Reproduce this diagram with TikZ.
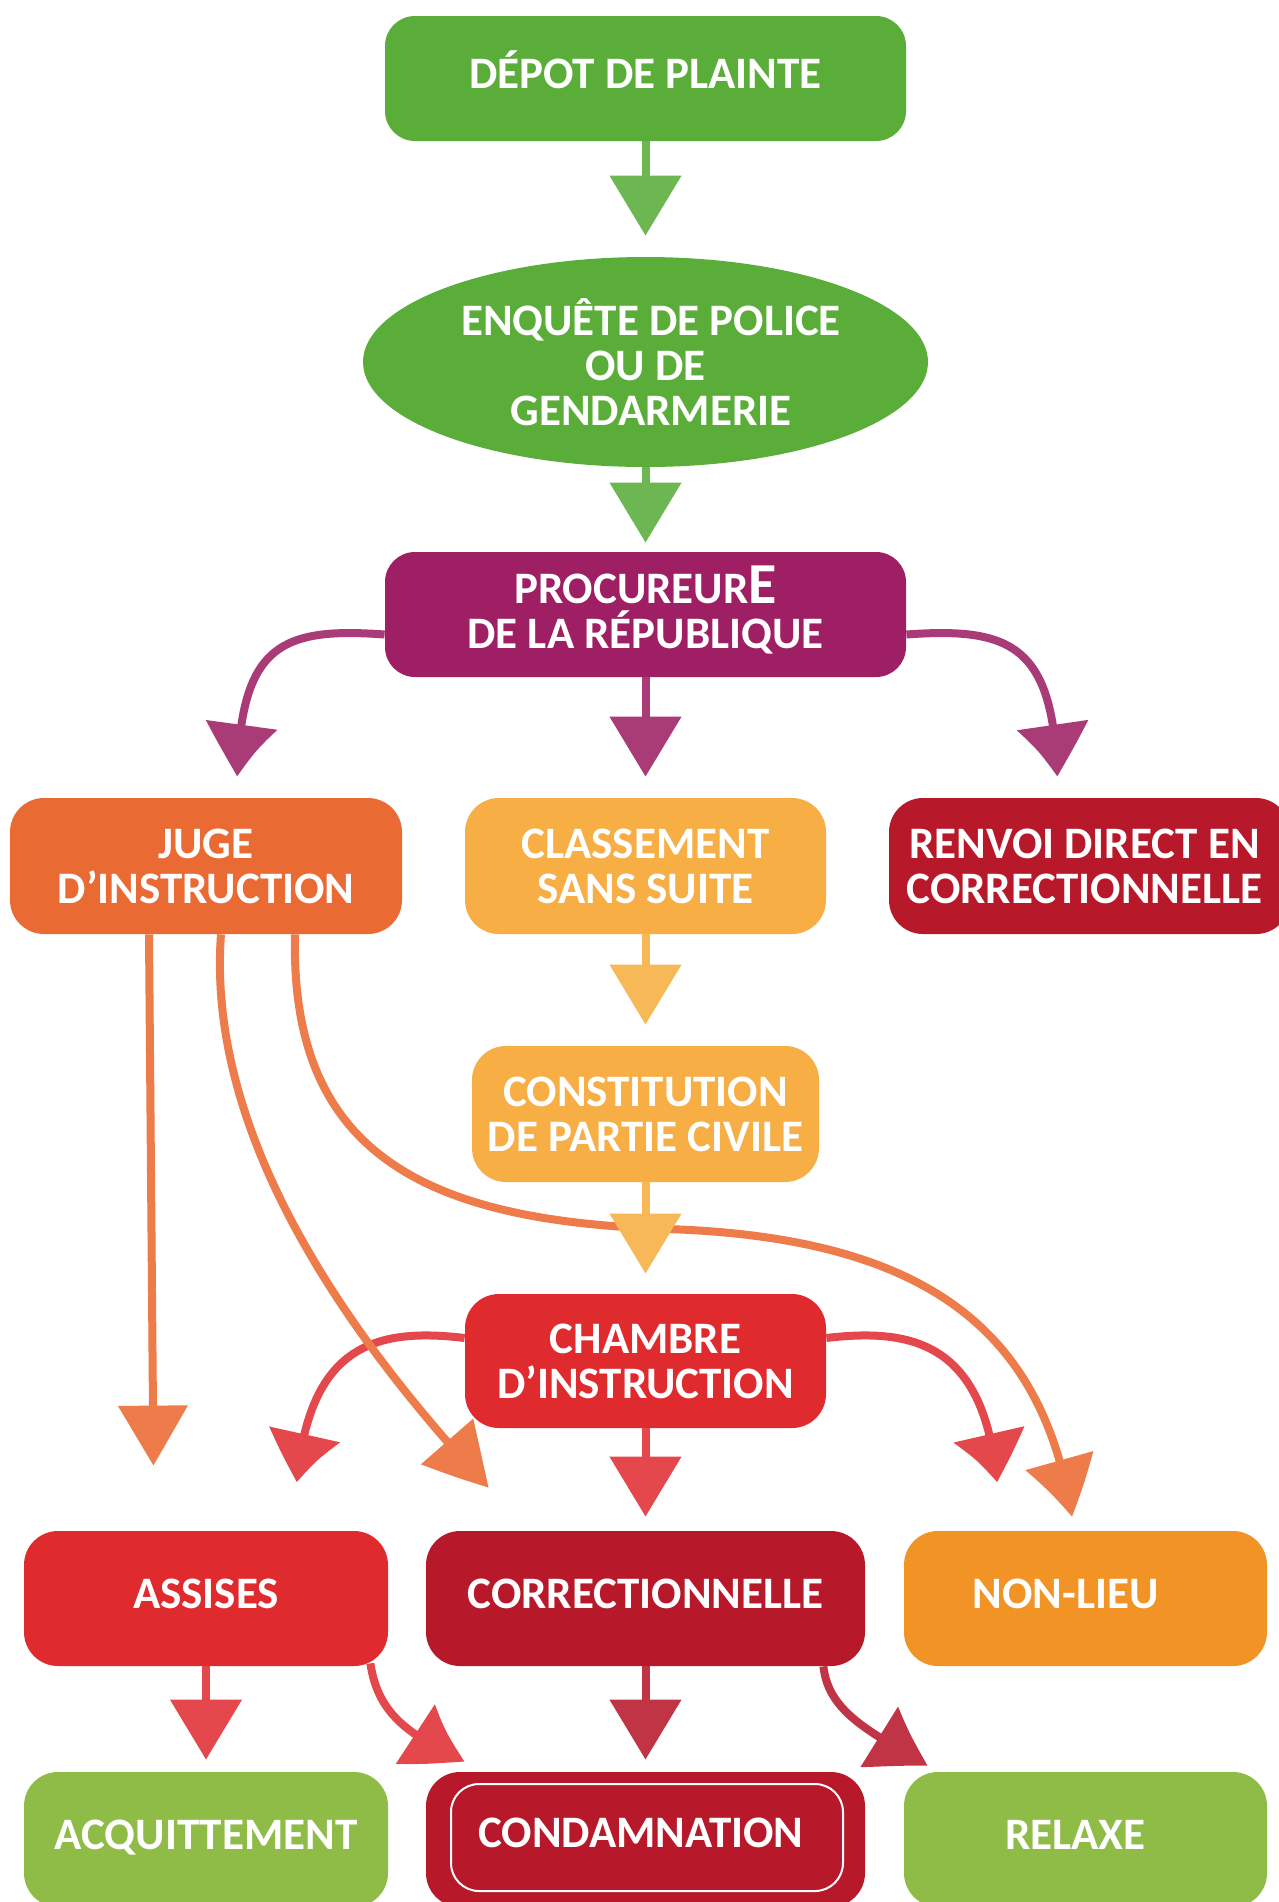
\documentclass[tikz,border=0pt]{standalone}
\usepackage{fontspec}
\setmainfont{Carlito}
\usetikzlibrary{arrows.meta,bending,shapes.geometric,calc}
\definecolor{gbox}{HTML}{5BAD3A}
\definecolor{garr}{HTML}{6DB752}
\definecolor{pbox}{HTML}{9E1F63}
\definecolor{parr}{HTML}{A93B76}
\definecolor{obox}{HTML}{EA6A34}
\definecolor{oarr}{HTML}{EE7C4B}
\definecolor{ybox}{HTML}{F6AE45}
\definecolor{yarr}{HTML}{F7B957}
\definecolor{rbox}{HTML}{E02B2E}
\definecolor{rarr}{HTML}{E4474C}
\definecolor{dbox}{HTML}{B8192A}
\definecolor{darr}{HTML}{C13445}
\definecolor{nbox}{HTML}{F29325}
\definecolor{lgbox}{HTML}{8FBC47}
\tikzset{
  lbl/.style={text=white, align=center, font=\bfseries\fontsize{22.5}{22.5}\selectfont},
  box/.style={lbl, rounded corners=17pt, inner sep=0pt, minimum height=68pt},
  topbox/.style={lbl, rounded corners=15pt, inner sep=0pt, minimum height=62.5pt},
  oneline/.style={text height=14.5pt, text depth=5pt},
  sarr/.style={line width=4pt, -{Triangle[length=30pt,width=35pt]}},
  carr/.style={line width=4pt, -{Triangle[length=30pt,width=34pt,bend]}},
}
\begin{document}
\begin{tikzpicture}[x=0.5pt,y=-0.5pt]
\useasboundingbox (0,0) rectangle (1279,1902);
\fill[white] (0,0) rectangle (1279,1902);

% nodes
\node[topbox, oneline, fill=gbox, minimum width=260.5pt] (dep) at (645.5,78.5) {DÉPOT DE PLAINTE};
\node[lbl, ellipse, fill=gbox, inner sep=0pt, minimum width=282.5pt, minimum height=105pt] (enq) at (645.5,362)
  {\hspace*{5.5pt}ENQUÊTE DE POLICE\\OU DE\\\hspace*{5.5pt}GENDARMERIE};
\node[topbox, fill=pbox, minimum width=260.5pt] (proc) at (645.5,614.5)
  {PROCUREUR\smash{\fontsize{29}{22.5}\selectfont E}\\DE LA RÉPUBLIQUE};

\node[box, fill=obox, minimum width=196pt] (juge) at (206,866) {JUGE\\D’INSTRUCTION};
\node[box, fill=ybox, minimum width=180.5pt] (class) at (645.5,866) {CLASSEMENT\\SANS SUITE};
\node[box, fill=dbox, minimum width=200.5pt] (renvoi) at (1089.5,866) {\hspace*{-5pt}RENVOI DIRECT EN\\\hspace*{-5pt}CORRECTIONNELLE};

\node[box, fill=ybox, minimum width=173.5pt] (const) at (645.5,1114) {CONSTITUTION\\DE PARTIE CIVILE};
\node[box, fill=rbox, minimum width=180.5pt, minimum height=67pt] (chamb) at (645.5,1361) {CHAMBRE\\D’INSTRUCTION};

\node[box, oneline, fill=rbox, minimum width=182pt, minimum height=67.5pt] (assises) at (206,1598.5) {ASSISES};
\node[box, oneline, fill=dbox, minimum width=219.5pt, minimum height=67.5pt] (correc) at (645.5,1598.5) {CORRECTIONNELLE};
\node[box, oneline, fill=nbox, minimum width=181.5pt, minimum height=67.5pt] (nonlieu) at (1085.5,1598.5) {\hspace*{-20pt}NON-LIEU};

\node[box, oneline, fill=lgbox, minimum width=182pt, minimum height=67.5pt] (acq) at (206,1839.5) {ACQUITTEMENT};
\node[box, fill=dbox, minimum width=219.5pt, minimum height=67.5pt] (condam) at (645.5,1839.5) {};
\node[lbl, oneline, draw=white, line width=1pt, rounded corners=14pt, inner sep=0pt, minimum width=196pt, minimum height=53.5pt] (condamtxt) at (647,1837.5) {\hspace*{-6pt}CONDAMNATION};
\node[box, oneline, fill=lgbox, minimum width=181.5pt, minimum height=67.5pt] (relaxe) at (1085.5,1839.5) {\hspace*{-10pt}RELAXE};

% connectors
\draw[sarr, garr, shorten >=10.5pt] (dep.south) -- (enq.north);
\draw[sarr, garr, shorten >=4.5pt] (enq.south) -- (proc.north);
\draw[sarr, parr, shorten >=10.5pt] (proc.south) -- (class.north);
\draw[carr, parr, shorten >=10.5pt] ($(proc.west)+(0,20)$) .. controls +(-110,-8) and +(0,-150) .. ($(juge.north)+(31,0)$);
\draw[carr, parr, shorten >=10.5pt] ($(proc.east)+(0,20)$) .. controls +(110,-8) and +(0,-150) .. ($(renvoi.north)+(-32,0)$);
\draw[sarr, yarr, shorten >=10.5pt] (class.south) -- (const.north);

\draw[carr, rarr, shorten >=25.5pt] ($(chamb.west)+(0,-23)$) .. controls +(-100,-12) and +(0,-180) .. ($(assises.north)+(89,0)$);
\draw[carr, rarr, shorten >=25.5pt] ($(chamb.east)+(0,-23)$) .. controls +(100,-12) and +(0,-180) .. ($(nonlieu.north)+(-86.5,0)$);
\draw[sarr, rarr, shorten >=7pt] (chamb.south) -- (correc.north);

\draw[carr, oarr, shorten >=32.5pt] ($(juge.south)+(-57,0)$) -- ($(assises.north)+(-52,0)$);
\draw[carr, oarr] ($(juge.south)+(15,0)$) .. controls +(-16,216) and +(-119,-128) .. ($(correc.north west)+(63,-43)$);
\draw[carr, oarr, shorten >=7pt] ($(juge.south)+(89,0)$) .. controls +(-5,216) and +(-247,-8) .. (667,1229)
  .. controls +(280,9) and +(-25,-184) .. ($(nonlieu.north)+(-11.5,0)$);

\draw[sarr, yarr, shorten >=10pt] (const.south) -- (chamb.north);

\draw[sarr, rarr, shorten >=6pt] (assises.south) -- (acq.north);
\draw[carr, rarr] ($(assises.south east)+(-18,-3)$) .. controls +(8,55) and +(-50,-25) .. ($(condam.north west)+(39,-10)$);
\draw[sarr, darr, shorten >=6pt] (correc.south) -- (condam.north);
\draw[carr, darr] ($(correc.south east)+(-42,0)$) .. controls +(5,45) and +(-60,-35) .. ($(relaxe.north west)+(24,-6)$);
\end{tikzpicture}
\end{document}
